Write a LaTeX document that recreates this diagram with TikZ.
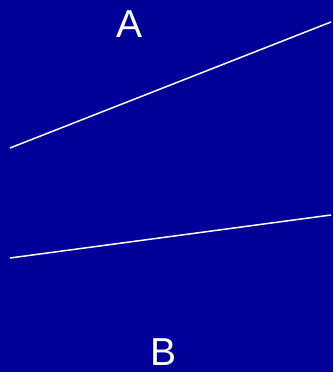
\documentclass[tikz,border=0pt]{standalone}
\usepackage{fontspec}
\setmainfont{Liberation Sans}
\definecolor{deepblue}{HTML}{000099}
\tikzset{
  letter/.style={text=white, font=\fontsize{39}{40}\selectfont, inner sep=0pt, anchor=base},
  ray/.style={draw=white, line width=1.5pt}
}
\begin{document}
\begin{tikzpicture}[x=1pt, y=1pt]
  \fill[deepblue] (0,0) rectangle (333,372);
  \useasboundingbox (0,0) rectangle (333,372);

  \node[letter] (labA) at (130,334) {A};
  \node[letter] (labB) at (164,6) {B};

  \coordinate (a1) at (10,224);
  \coordinate (a2) at (331,350);
  \coordinate (b1) at (10,114);
  \coordinate (b2) at (331,157);

  \draw[ray] (a1) -- (a2);
  \draw[ray] (b1) -- (b2);
\end{tikzpicture}
\end{document}
